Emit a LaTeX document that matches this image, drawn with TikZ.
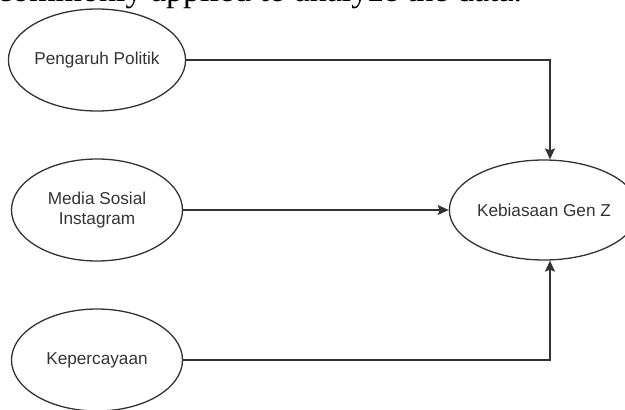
\documentclass[tikz,border=0pt]{standalone}
\usepackage{fontspec}
\setmainfont{Liberation Serif}
\newfontfamily\labelfont{Liberation Sans}
\usetikzlibrary{
  arrows.meta,
  positioning,
  shapes
}

\definecolor{linegray}{HTML}{333333}

\begin{document}
\begin{tikzpicture}[x=1pt, y=-1pt,
    var/.style={ellipse, draw=linegray, line width=1.3pt, minimum width=171pt,
      minimum height=102pt, inner sep=0pt, align=center, text=linegray,
      font=\labelfont\fontsize{17.2}{19.5}\selectfont},
    link/.style={draw=linegray, line width=1.3pt,
      -{Stealth[length=11pt, width=10pt, inset=2pt]}}]
            \useasboundingbox (0, 0) rectangle (625, 410);
            \node[anchor=base west, inner sep=0pt, font=\fontsize{34}{40}\selectfont] (caption) at (-3, 1) {commonly applied to analyze the data.};
            \node[var] (politik) at (97, 60) {Pengaruh Politik};
            \node[var] (medsos) at (97, 210) {Media Sosial\\Instagram};
            \node[var] (percaya) at (97, 360) {Kepercayaan};
            \node[var, minimum width=158pt, minimum height=100pt] (genz) at (544, 210) {Kebiasaan Gen Z};
            \draw[link] (politik) -| ([xshift=6pt]genz.north);
            \draw[link] (medsos) -- (genz);
            \draw[link] (percaya) -| ([xshift=6pt]genz.south);
          \end{tikzpicture}
\end{document}
